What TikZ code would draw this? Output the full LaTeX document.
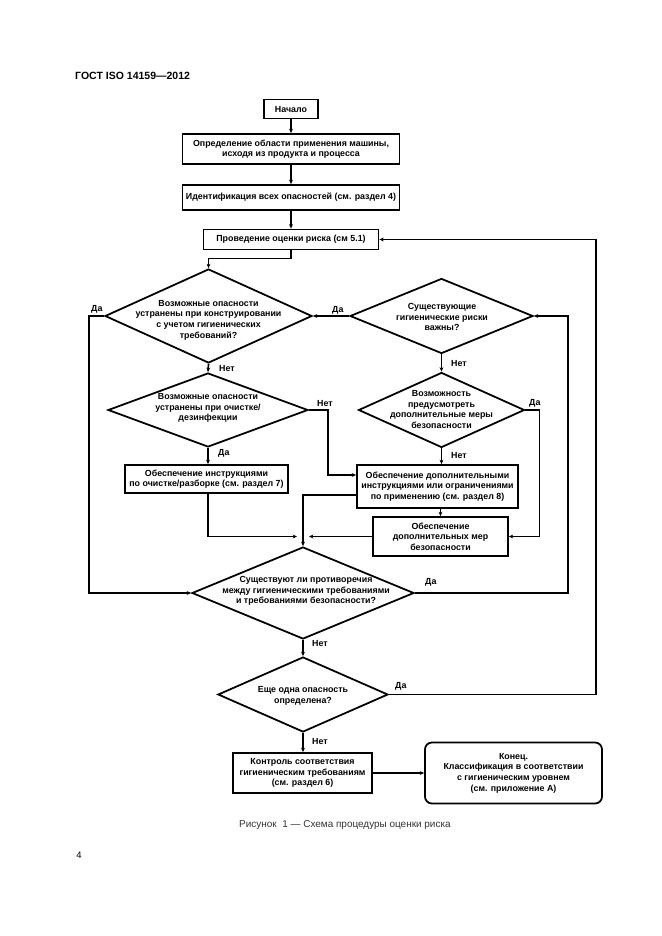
\documentclass[tikz,border=0pt]{standalone}
\usepackage{fontspec}
\setmainfont{Liberation Sans}
\usetikzlibrary{shapes.geometric,arrows.meta}
\newcommand{\px}{0.3177mm}
\tikzset{
  box/.style={draw, line width=1.6pt, inner sep=0pt, align=center, font=\bfseries\fontsize{8}{9.6}\selectfont},
  dia/.style={draw, diamond, line width=1.6pt, inner sep=0pt},
  dtext/.style={align=center, inner sep=0pt, font=\bfseries\fontsize{8}{9.6}\selectfont},
  ans/.style={anchor=west, inner sep=0pt, font=\bfseries\fontsize{8}{9.6}\selectfont},
  flow/.style={line width=1.5pt, -{Stealth[length=4pt,width=3.5pt]}},
}
\begin{document}
\begin{tikzpicture}[x=\px, y=-\px]
  \useasboundingbox (0,0) rectangle (661,936);
  %Header
  \node[anchor=west, inner sep=0pt, font=\bfseries\fontsize{9.5}{11}\selectfont] (head) at (75,76) {ГОСТ ISO 14159—2012};

  %Top column
  \node[box, minimum width=54*\px, minimum height=19*\px] (start) at (291,109) {Начало};
  \node[box, minimum width=217*\px, minimum height=30*\px] (scope) at (291,149) {Определение области применения машины,\\исходя из продукта и процесса};
  \node[box, minimum width=217*\px, minimum height=25*\px] (ident) at (291,197.5) {Идентификация всех опасностей (см. раздел 4)};
  \node[box, minimum width=175*\px, minimum height=20*\px] (assess) at (291,239.5) {Проведение оценки риска (см 5.1)};

  %Decisions
  \node[dia, minimum width=207*\px, minimum height=94*\px] (d1) at (208.5,316) {};
  \node[dtext] (d1t) at (208.5,320) {Возможные опасности\\устранены при конструировании\\с учетом гигиенических\\требований?};
  \node[dia, minimum width=183*\px, minimum height=75*\px] (d2) at (441.5,316) {};
  \node[dtext] (d2t) at (442,317) {Существующие\\гигиенические риски\\важны?};
  \node[dia, minimum width=200*\px, minimum height=74*\px] (d3) at (208,410) {};
  \node[dtext] (d3t) at (208,408) {Возможные опасности\\устранены при очистке/\\дезинфекции};
  \node[dia, minimum width=166*\px, minimum height=75*\px] (d4) at (441.5,410) {};
  \node[dtext] (d4t) at (441.5,409.5) {Возможность\\предусмотреть\\дополнительные меры\\безопасности};

  %Measures
  \node[box, minimum width=163*\px, minimum height=28*\px] (clean) at (206.5,479) {Обеспечение инструкциями\\по очистке/разборке (см. раздел 7)};
  \node[box, minimum width=161*\px, minimum height=43*\px] (instr) at (437.5,486.5) {Обеспечение дополнительными\\инструкциями или ограничениями\\по применению (см. раздел 8)};
  \node[box, minimum width=135*\px, minimum height=39*\px] (safety) at (440.5,536.5) {Обеспечение\\дополнительных мер\\безопасности};

  %Lower part
  \node[dia, minimum width=222*\px, minimum height=92*\px] (d5) at (303,593) {};
  \node[dtext] (d5t) at (306,591) {Существуют ли противоречия\\между гигиеническими требованиями\\и требованиями безопасности?};
  \node[dia, minimum width=170*\px, minimum height=75*\px] (d6) at (303,694.5) {};
  \node[dtext] (d6t) at (303,696) {Еще одна опасность\\определена?};
  \node[box, minimum width=139*\px, minimum height=40*\px] (check) at (302.5,773) {Контроль соответствия\\гигиеническим требованиям\\(см. раздел 6)};
  \node[box, rounded corners=2.2mm, minimum width=177*\px, minimum height=61*\px] (finish) at (513.5,773) {Конец.\\Классификация в соответствии\\с гигиеническим уровнем\\(см. приложение А)};

  %Connectors
  \coordinate (in6) at ([yshift=11.5*\px]instr.west);
  \coordinate (out6) at ([yshift=-8.5*\px]instr.west);
  \coordinate (jl) at (297,536.5);
  \coordinate (jr) at (309,536.5);
  \draw[flow] (start) -- (scope);
  \draw[flow] (scope) -- (ident);
  \draw[flow] (ident) -- (assess);
  \draw[flow] (assess.south) -- ++(0,8) -| (d1.north);
  \draw[flow] (d2.west) -- (d1.east);
  \draw[flow] (d1.west) -- ++(-15,0) |- (d5.west);
  \draw[flow] (d1.south) -- (d3.north);
  \draw[flow] (d3.south) -- (d3.south |- clean.north);
  \draw[flow] (d3.east) -- ++(19,0) |- (in6);
  \draw[flow] (clean.south -| d3.south) |- (jl);
  \draw[flow] (safety.west) -- (jr);
  \draw[flow] (out6) -| (d5.north);
  \draw[flow] (d2.south) -- (d4.north);
  \draw[flow] (d4.south) -- (d4.south |- instr.north);
  \draw[flow] (safety.north |- instr.south) -- (safety.north);
  \draw[flow] (d4.east) -- ++(14,0) |- (safety.east);
  \draw[flow] (d5.east) -- ++(153,0) |- (d2.east);
  \draw[flow] (d5.south) -- (d6.north);
  \draw[flow] (d6.east) -- ++(207,0) |- (assess.east);
  \draw[flow] (d6.south) -- (d6.south |- check.north);
  \draw[flow] (check.east) -- (finish.west);

  %Answers
  \node[ans] (y1) at (91,309) {Да};
  \node[ans] (y2) at (332,310) {Да};
  \node[ans] (n1) at (219,368) {Нет};
  \node[ans] (n3) at (317,403) {Нет};
  \node[ans] (y3) at (218,453) {Да};
  \node[ans] (n2) at (451,363) {Нет};
  \node[ans] (y4) at (529,403) {Да};
  \node[ans] (n4) at (451,455) {Нет};
  \node[ans] (y5) at (425,582) {Да};
  \node[ans] (n5) at (312,643) {Нет};
  \node[ans] (y6) at (395,686) {Да};
  \node[ans] (n6) at (312,741) {Нет};

  %Caption
  \node[anchor=west, inner sep=0pt, text=black!80, font=\fontsize{9}{11}\selectfont] (cap) at (239,825) {Рисунок~~1 — Схема процедуры оценки риска};
  \node[inner sep=0pt, font=\fontsize{8.5}{10}\selectfont] (pnum) at (79,855) {4};
\end{tikzpicture}
\end{document}
